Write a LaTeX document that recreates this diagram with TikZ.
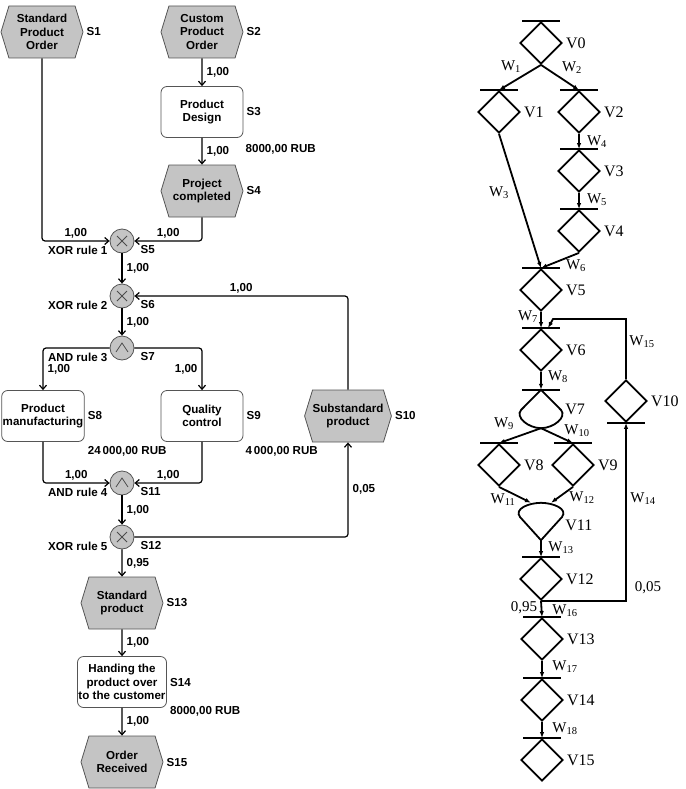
\documentclass[tikz,border=0pt]{standalone}
\usepackage{fontspec}
\setmainfont{Liberation Serif}
\setsansfont{Liberation Sans}
\usetikzlibrary{shapes.geometric,shapes.symbols,arrows.meta}
\definecolor{cinza}{RGB}{196,196,196}
\definecolor{borda}{RGB}{85,85,85}
\newcommand{\epcfonte}{\sffamily\bfseries\fontsize{11.6}{13.6}\selectfont}
\newcommand{\vfonte}{\rmfamily\fontsize{16}{18}\selectfont}
\newcommand{\wfonte}{\rmfamily\fontsize{15}{17}\selectfont}
\tikzset{
  evento/.style={shape=signal, signal to=west and east, signal pointer angle=146, draw=borda, fill=cinza, line width=0.8, minimum width=82, minimum height=52, inner sep=0, align=center, font=\epcfonte},
  funcao/.style={rectangle, rounded corners=6, draw=borda, fill=white, line width=0.8, minimum width=82, minimum height=51, inner sep=1, align=center, font=\epcfonte},
  conector/.style={circle, draw=borda, fill=cinza, line width=0.8, minimum size=24, inner sep=0},
  conxor/.style={conector, path picture={
      \draw[black!70, line width=0.8] ([shift={(-5,-5)}]path picture bounding box.center) -- ([shift={(5,5)}]path picture bounding box.center)
      ([shift={(-5,5)}]path picture bounding box.center) -- ([shift={(5,-5)}]path picture bounding box.center);}},
  conand/.style={conector, path picture={
      \draw[black!70, line width=0.8] ([shift={(-6,4)}]path picture bounding box.center) -- ([shift={(0,-5)}]path picture bounding box.center) -- ([shift={(6,4)}]path picture bounding box.center);}},
  fluxo/.style={-{Straight Barb[length=4,width=7]}, line width=1.2, rounded corners=3},
  texto/.style={font=\epcfonte, inner sep=1},
  rombo/.style={diamond, draw, line width=1.8, minimum width=42, minimum height=42, inner sep=0},
  barra/.style={line width=2.6},
  seta/.style={-{Latex[length=6,width=4.5]}, line width=1.8},
  vrot/.style={font=\vfonte, inner sep=3},
  wrot/.style={font=\wfonte, inner sep=0}
}
\begin{document}
\begin{tikzpicture}[x=1pt,y=-1pt] %Desenho em pixels
\useasboundingbox (0,0) rectangle (685,789);
	%Eventos e funcoes
\node[evento] (s1) at (42,32) {Standard\\Product\\Order};
\node[evento] (s2) at (202,32) {Custom\\Product\\Order};
\node[funcao] (s3) at (202,112) {Product\\Design};
\node[evento] (s4) at (202,191) {Project\\completed};
\node[conxor] (s5) at (122,241) {};
\node[conxor] (s6) at (122,296) {};
\node[conand] (s7) at (122,348) {};
\node[funcao] (s8) at (43,416) {Product\\manufacturing};
\node[funcao] (s9) at (202,416) {Quality\\control};
\node[evento] (s10) at (348,416) {Substandard\\product};
\node[conand] (s11) at (122,483) {};
\node[conxor] (s12) at (122,537) {};
\node[evento] (s13) at (122,603) {Standard\\product};
\node[funcao] (s14) at (122,682) {Handing the\\product over\\to the customer};
\node[evento] (s15) at (122,762) {Order\\Received};
	%Nomes
\foreach \s/\t in {s1/S1,s2/S2,s3/S3,s4/S4,s8/S8,s9/S9,s10/S10,s13/S13,s14/S14,s15/S15}
  \node[texto, right=2pt] at (\s.east) {\t};
\foreach \s/\t/\r in {s5/S5/XOR rule 1,s6/S6/XOR rule 2,s7/S7/AND rule 3,s11/S11/AND rule 4,s12/S12/XOR rule 5}{
  \node[texto, anchor=west] at ([shift={(5,9)}]\s.east) {\t};
  \node[texto, anchor=east] at ([shift={(-1,9)}]\s.west) {\r};
}
\node[texto, anchor=west] at ([shift={(1,11)}]s3.south east) {8000,00 RUB};
\node[texto, anchor=west] at ([shift={(2,9)}]s8.south east) {24\,000,00 RUB};
\node[texto, anchor=west] at ([shift={(1,9)}]s9.south east) {4\,000,00 RUB};
\node[texto, anchor=west] at ([shift={(2,3)}]s14.south east) {8000,00 RUB};
	%Fluxos
\draw[fluxo] (s2) -- node[texto, right=3pt] {1,00} (s3);
\draw[fluxo] (s3) -- node[texto, right=3pt] {1,00} (s4);
\draw[fluxo] (s1.south) |- node[texto, above=1pt, pos=.75] {1,00} (s5.west);
\draw[fluxo] (s4.south) |- node[texto, above=1pt, pos=.75] {1,00} (s5.east);
\draw[fluxo] (s5) -- node[texto, right=3pt] {1,00} (s6);
\draw[fluxo] (s10.north) |- node[texto, above=1pt, pos=.75] {1,00} (s6.east);
\draw[fluxo] (s6) -- node[texto, right=3pt] {1,00} (s7);
\draw[fluxo] (s7.west) -| node[texto, right=3pt, pos=.75] {1,00} (s8.north);
\draw[fluxo] (s7.east) -| node[texto, left=3pt, pos=.75] {1,00} (s9.north);
\draw[fluxo] (s8.south) |- node[texto, above=1pt, pos=.75] {1,00} (s11.west);
\draw[fluxo] (s9.south) |- node[texto, above=1pt, pos=.75] {1,00} (s11.east);
\draw[fluxo] (s11) -- node[texto, right=3pt] {1,00} (s12);
\draw[fluxo] (s12.east) -| node[texto, right=3pt, pos=.75] {0,05} (s10.south);
\draw[fluxo] (s12) -- node[texto, right=3pt] {0,95} (s13);
\draw[fluxo] (s13) -- node[texto, right=3pt] {1,00} (s14);
\draw[fluxo] (s14) -- node[texto, right=3pt] {1,00} (s15);
	%Grafo
\node[rombo] (v0) at (541,43) {};
\node[rombo] (v1) at (499,112) {};
\node[rombo] (v2) at (579,112) {};
\node[rombo] (v3) at (579,171) {};
\node[rombo] (v4) at (579,231) {};
\node[rombo] (v5) at (541,290) {};
\node[rombo] (v6) at (541,350) {};
\node[inner sep=0, minimum width=42, minimum height=38] (v7) at (541,409) {};
\node[rombo] (v8) at (499,465) {};
\node[rombo] (v9) at (573,465) {};
\node[rombo] (v10) at (626,401) {};
\node[inner sep=0, minimum width=42, minimum height=37] (v11) at (541,521.5) {};
\node[rombo] (v12) at (541,579) {};
\node[rombo] (v13) at (542,639) {};
\node[rombo] (v14) at (542,700) {};
\node[rombo] (v15) at (542,760) {};
\draw[line width=1.8] (v7.north) -- (521,410) .. controls (515,417) and (528,428) .. (v7.south) .. controls (554,428) and (567,417) .. (561,410) -- cycle; %V7
\draw[line width=1.8] (v11.south) -- (520,517) .. controls (514,509) and (528,503) .. (v11.north) .. controls (554,503) and (568,509) .. (562,517) -- cycle; %V11
	%Barras
\foreach \v in {v0,v1,v2,v3,v4,v5,v6,v7,v8,v9,v12,v13,v14,v15}
  \draw[barra] ([xshift=-19]\v.north) -- ([xshift=19]\v.north);
\draw[barra] ([xshift=-19]v10.south) -- ([xshift=19]v10.south);
	%Arcos
\draw[seta] (v0.south) -- (v1.north);
\draw[seta] (v0.south) -- (v2.north);
\draw[seta] (v1.south) -- (v5.north);
\draw[seta] (v2.south) -- (v3.north);
\draw[seta] (v3.south) -- (v4.north);
\draw[seta] (v4.south) -- (v5.north);
\draw[seta] (v5.south) -- (v6.north);
\draw[seta] (v6.south) -- (v7.north);
\draw[seta] (v7.south) -- (v8.north);
\draw[seta] (v7.south) -- (v9.north);
\draw[seta] (v8.south) -- ([xshift=-10]v11.north);
\draw[seta] (v9.south) -- ([xshift=10]v11.north);
\draw[seta] (v11.south) -- (v12.north);
\draw[seta] (v12.south) -- (v13.north);
\draw[seta] (v13.south) -- (v14.north);
\draw[seta] (v14.south) -- (v15.north);
\draw[seta] (v12.south) -| (v10.south);
\coordinate (retorno) at (553,319);
\draw[seta] (v10.north) |- (retorno) -- ([xshift=7]v6.north);
	%Rotulos
\foreach \v/\t in {v0/V0,v1/V1,v2/V2,v3/V3,v4/V4,v5/V5,v6/V6,v7/V7,v8/V8,v9/V9,v10/V10,v12/V12,v13/V13,v14/V14,v15/V15}
  \node[vrot, right] at (\v.east) {\t};
\node[vrot, right] at ([yshift=-4]v11.east) {V11};
\node[wrot] (w1) at (511,67) {W\textsubscript{1}};
\node[wrot] (w2) at (572,68) {W\textsubscript{2}};
\node[wrot] (w3) at (499,193) {W\textsubscript{3}};
\node[wrot] (w4) at (597,142) {W\textsubscript{4}};
\node[wrot] (w5) at (597,200) {W\textsubscript{5}};
\node[wrot] (w6) at (576,266) {W\textsubscript{6}};
\node[wrot] (w7) at (528,317) {W\textsubscript{7}};
\node[wrot] (w8) at (558,377) {W\textsubscript{8}};
\node[wrot] (w9) at (504,424) {W\textsubscript{9}};
\node[wrot] (w10) at (577,431) {W\textsubscript{10}};
\node[wrot] (w11) at (503,500) {W\textsubscript{11}};
\node[wrot] (w12) at (582,498) {W\textsubscript{12}};
\node[wrot] (w13) at (561,548) {W\textsubscript{13}};
\node[wrot] (w14) at (643,499) {W\textsubscript{14}};
\node[wrot] (w15) at (642,342) {W\textsubscript{15}};
\node[wrot] (w16) at (565,611) {W\textsubscript{16}};
\node[wrot] (w17) at (565,667) {W\textsubscript{17}};
\node[wrot] (w18) at (565,729) {W\textsubscript{18}};
\node[wrot] (p05) at (648,588) {0,05};
\node[wrot] (p95) at (524,608) {0,95};
\end{tikzpicture}
\end{document}
